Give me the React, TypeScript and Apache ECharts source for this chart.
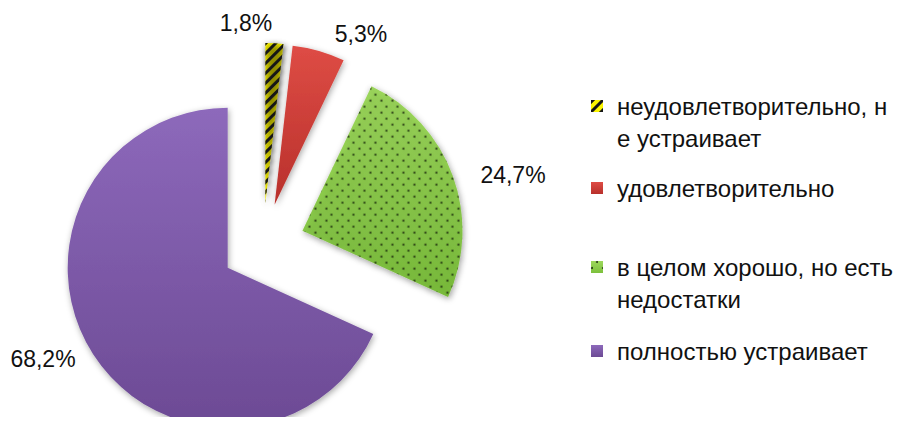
import React, { useEffect, useRef } from "react";
import * as echarts from "echarts";

const categories = [
  "неудовлетворительно, не устраивает",
  "удовлетворительно",
  "в целом хорошо, но есть недостатки",
  "полностью устраивает",
];
const legendLines = [
  ["неудовлетворительно, н", "е устраивает"],
  ["удовлетворительно"],
  ["в целом хорошо, но есть", "недостатки"],
  ["полностью устраивает"],
];
const values = [1.8, 5.3, 24.7, 68.2];
const labelTexts = ["1,8%", "5,3%", "24,7%", "68,2%"];

const FONT = "'Liberation Sans', Arial, sans-serif";
const labelPos = [
  [246, 23],
  [361, 34],
  [513, 175],
  [43, 359],
];
const legendIconY = [107, 188, 268, 351];
const LH = 32;

function vgrad(a: string, b: string) {
  return new echarts.graphic.LinearGradient(0, 0, 0, 1, [
    { offset: 0, color: a },
    { offset: 1, color: b },
  ]);
}

export default function App() {
  const ref = useRef<HTMLDivElement>(null);
  useEffect(() => {
    const chart = echarts.init(ref.current!, null, { renderer: "svg" });
    const styles = [
      {
        color: "#fbf500",
        decal: {
          symbol: "rect",
          symbolSize: 1,
          color: "#161616",
          dashArrayX: [1, 0],
          dashArrayY: [3, 4],
          rotation: -Math.PI / 4,
        },
      },
      { color: vgrad("#de4c45", "#b8302b") },
      {
        color: vgrad("#9dd85c", "#7cc03c"),
        decal: {
          symbol: "circle",
          symbolSize: 1,
          color: "rgba(20,30,10,0.85)",
          dashArrayX: [[1.6, 8.4], [0, 5, 1.6, 3.4]],
          dashArrayY: [1.6, 3.4],
          rotation: 0,
        },
      },
      { color: vgrad("#8d69bb", "#6c4a94") },
    ];
    const data = categories.map((name, i) => ({
      name,
      value: values[i],
      selected: true,
      itemStyle: {
        ...styles[i],
        shadowBlur: 6,
        shadowColor: "rgba(0,0,0,0.35)",
        shadowOffsetX: 1,
        shadowOffsetY: 2,
      },
    }));
    const labelData = categories.map((name, i) => ({ name, value: values[i] }));
    const legends = categories.map((name, i) => {
      const two = legendLines[i].length > 1;
      return {
        data: [name],
        orient: "vertical",
        left: 591,
        top: two ? legendIconY[i] - LH * 1.5 - 1 : legendIconY[i] - LH / 2,
        padding: 0,
        itemWidth: 12,
        itemHeight: 12,
        itemGap: 0,
        icon: "rect",
        selectedMode: false,
        formatter: () => (two ? "\n" : "") + legendLines[i].join("\n"),
        textStyle: {
          fontFamily: FONT,
          fontSize: 24,
          lineHeight: LH,
          color: "#111",
          padding: [0, 0, 0, 9],
        },
      };
    });
    chart.setOption({
      animation: false,
      backgroundColor: "#fff",
      legend: legends,
      series: [
        {
          type: "pie",
          center: [263, 245],
          radius: 160,
          startAngle: 90,
          clockwise: true,
          selectedMode: "multiple",
          selectedOffset: 42,
          label: { show: false },
          labelLine: { show: false },
          emphasis: { disabled: true },
          data,
        },
        {
          type: "pie",
          center: [263, 245],
          radius: 160,
          startAngle: 90,
          clockwise: true,
          silent: true,
          selectedMode: false,
          avoidLabelOverlap: false,
          itemStyle: { color: "rgba(0,0,0,0)", borderWidth: 0 },
          label: {
            show: true,
            position: "outside",
            fontFamily: FONT,
            fontSize: 23,
            color: "#111",
            formatter: (p: any) => labelTexts[p.dataIndex],
          },
          labelLine: { show: false },
          labelLayout: (p: any) => ({
            x: labelPos[p.dataIndex][0],
            y: labelPos[p.dataIndex][1],
            align: "center",
            verticalAlign: "middle",
          }),
          emphasis: { disabled: true },
          data: labelData,
        },
      ],
    });
    return () => chart.dispose();
  }, []);
  return <div ref={ref} style={{ width: 901, height: 425, margin: -8 }} />;
}
